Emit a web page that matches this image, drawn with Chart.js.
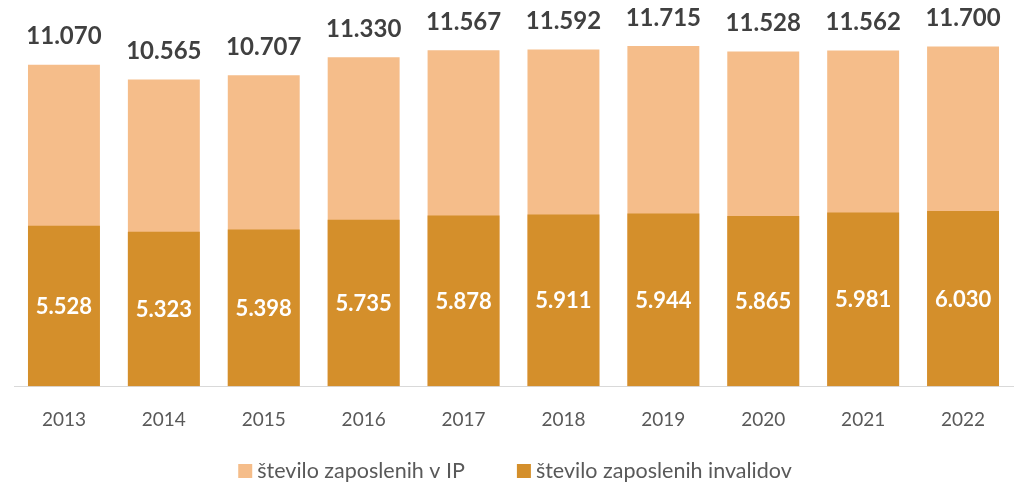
<!DOCTYPE html>
<html>
<head>
<meta charset="utf-8">
<script src="https://cdn.jsdelivr.net/npm/chart.js@4.4.0/dist/chart.umd.min.js"></script>
<style>
html,body{margin:0;padding:0;background:#fff;}
#wrap{width:1022px;height:482px;position:relative;}
</style>
</head>
<body>
<div id="wrap"><canvas id="c" width="1022" height="482"></canvas></div>
<script>
const categories = ['2013','2014','2015','2016','2017','2018','2019','2020','2021','2022'];
const totalIP = [11070,10565,10707,11330,11567,11592,11715,11528,11562,11700];
const invalidov = [5528,5323,5398,5735,5878,5911,5944,5865,5981,6030];
const seriesNames = ['število zaposlenih v IP','število zaposlenih invalidov'];
const seriesColors = ['#F5BD8A','#D48F2B'];

function fmtThousands(v){ const s=String(v); return s.length>3 ? s.slice(0,s.length-3)+'.'+s.slice(-3) : s; }

const labelPlugin = {
  id:'labels',
  afterDatasetsDraw(chart){
    const ctx = chart.ctx;
    const metaInv = chart.getDatasetMeta(0);
    const metaTot = chart.getDatasetMeta(1);
    ctx.save();
    ctx.textAlign='center';
    ctx.textBaseline='middle';
    metaTot.data.forEach((bar,i)=>{
      ctx.fillStyle='#404040';
      ctx.font='bold 24px Lato';
      ctx.fillText(fmtThousands(totalIP[i]), bar.x, bar.y-28);
    });
    metaInv.data.forEach((bar,i)=>{
      ctx.fillStyle='#ffffff';
      ctx.font='bold 22px Lato';
      ctx.fillText(fmtThousands(invalidov[i]), bar.x, (bar.y+bar.base)/2+1);
    });
    ctx.restore();
  }
};

const legendPlugin = {
  id:'customLegend',
  afterDraw(chart){
    const ctx = chart.ctx;
    ctx.save();
    ctx.font='21.5px Lato';
    ctx.textBaseline='middle';
    ctx.textAlign='left';
    const box=14, gapText=5, gapItem=52;
    const widths = seriesNames.map(n=>ctx.measureText(n).width);
    const total = widths.reduce((a,w)=>a+box+gapText+w,0) + gapItem*(seriesNames.length-1);
    let x = 515 - total/2;
    const yc = 471;
    seriesNames.forEach((n,i)=>{
      ctx.fillStyle=seriesColors[i];
      ctx.fillRect(x, yc-7, box, box);
      ctx.fillStyle='#595959';
      ctx.fillText(n, x+box+gapText, yc);
      x += box+gapText+widths[i]+gapItem;
    });
    ctx.restore();
  }
};

new Chart(document.getElementById('c'), {
  type:'bar',
  data:{
    labels:categories,
    datasets:[
      {label:seriesNames[1], data:invalidov, backgroundColor:seriesColors[1], borderWidth:0},
      {label:seriesNames[0], data:totalIP, backgroundColor:seriesColors[0], borderWidth:0}
    ]
  },
  options:{
    responsive:false,
    animation:false,
    layout:{padding:{left:14,right:9,top:0,bottom:29}},
    scales:{
      x:{
        stacked:true,
        grid:{display:false, drawTicks:false},
        border:{display:true,color:'#D9D9D9',width:1},
        ticks:{color:'#595959',font:{family:'Lato',size:19},padding:22}
      },
      y:{
        stacked:false, display:false, min:0, max:13300
      }
    },
    datasets:{bar:{categoryPercentage:1,barPercentage:0.72}},
    plugins:{
      legend:{display:false},
      tooltip:{enabled:false}
    }
  },
  plugins:[labelPlugin, legendPlugin]
});
</script>
</body>
</html>
